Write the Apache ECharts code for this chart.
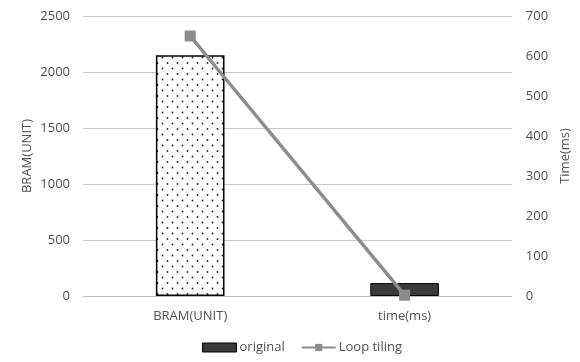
<!DOCTYPE html>
<html><head><meta charset="utf-8">
<script src="https://cdn.jsdelivr.net/npm/echarts@6/dist/echarts.min.js"></script>
<style>html,body{margin:0;padding:0;background:#fff}#c{width:580px;height:362px}</style>
</head><body><div id="c"></div>
<script>
const categories = ['BRAM(UNIT)', 'time(ms)'];
const originalValues = [2150, 115];
const loopTilingValues = [650, 2];
const leftTicks = [0, 500, 1000, 1500, 2000, 2500];
const rightTicks = [0, 100, 200, 300, 400, 500, 600, 700];

const pc = document.createElement('canvas');
pc.width = 10; pc.height = 11;
const g = pc.getContext('2d');
g.fillStyle = '#fff'; g.fillRect(0, 0, 10, 11);
g.fillStyle = '#222';
g.beginPath(); g.arc(2.5, 2.5, 0.9, 0, Math.PI * 2); g.fill();
g.beginPath(); g.arc(7.5, 8, 0.9, 0, Math.PI * 2); g.fill();

const font = 'Open Sans';
const txt = '#505050';
const chart = echarts.init(document.getElementById('c'), null, {renderer: 'canvas'});
chart.setOption({
  animation: false,
  textStyle: {fontFamily: font},
  grid: {left: 83, right: 67, top: 16, bottom: 66},
  legend: {
    bottom: 3, left: 197, itemGap: 16, itemWidth: 34, itemHeight: 9,
    textStyle: {color: txt, fontSize: 13, fontFamily: font, padding: [0, 0, 0, -2]},
    data: [
      {name: 'original', icon: 'rect', itemStyle: {color: '#3a3a3a', borderColor: '#000', borderWidth: 1}},
      {name: 'Loop tiling'}
    ]
  },
  xAxis: {
    type: 'category', data: categories,
    axisLine: {lineStyle: {color: '#bfbfbf', width: 1}},
    axisTick: {show: false},
    axisLabel: {color: txt, fontSize: 13, margin: 14, fontFamily: font}
  },
  yAxis: [
    {
      type: 'value', min: leftTicks[0], max: leftTicks[leftTicks.length - 1], interval: 500,
      name: 'BRAM(UNIT)', nameLocation: 'middle', nameGap: 49, nameRotate: 90, nameMoveOverlap: false,
      nameTextStyle: {color: txt, fontSize: 13, fontFamily: font},
      axisLine: {show: false}, axisTick: {show: false},
      axisLabel: {color: txt, fontSize: 13, margin: 13, fontFamily: font, formatter: v => String(v)},
      splitLine: {lineStyle: {color: '#c8c8c8', width: 1}}
    },
    {
      type: 'value', min: rightTicks[0], max: rightTicks[rightTicks.length - 1], interval: 100,
      name: 'Time(ms)', nameLocation: 'middle', nameGap: 42, nameRotate: 90,
      nameTextStyle: {color: txt, fontSize: 13, fontFamily: font},
      axisLine: {show: false}, axisTick: {show: false},
      axisLabel: {color: txt, fontSize: 13, margin: 14, fontFamily: font, formatter: v => String(v)},
      splitLine: {show: false}
    }
  ],
  series: [
    {
      name: 'original', type: 'bar', yAxisIndex: 0, barWidth: '32%',
      data: originalValues.map((v, i) => ({
        value: v,
        itemStyle: i === 0
          ? {color: {image: pc, repeat: 'repeat'}, borderColor: '#000', borderWidth: 1.5}
          : {color: '#3a3a3a', borderColor: '#000', borderWidth: 1}
      })),
      itemStyle: {color: '#3a3a3a'}
    },
    {
      name: 'Loop tiling', type: 'line', yAxisIndex: 1, data: loopTilingValues,
      symbol: 'rect', symbolSize: 11,
      lineStyle: {color: '#8c8c8c', width: 3.5},
      itemStyle: {color: '#8c8c8c'}
    }
  ]
});
</script></body></html>
